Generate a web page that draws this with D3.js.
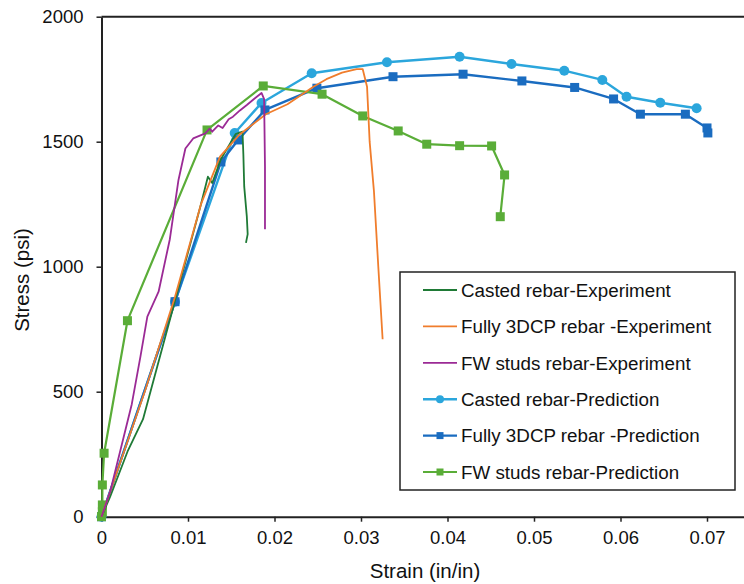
<!DOCTYPE html>
<html>
<head>
<meta charset="utf-8">
<script src="https://cdn.jsdelivr.net/npm/d3@7"></script>
<style>
  body { margin: 0; background: #fff; }
  svg { display: block; font-family: "Liberation Sans", Arial, sans-serif; }
</style>
</head>
<body>
<svg id="chart" width="744" height="584"></svg>
<script>
// strain (in/in), stress (psi)
const castedExp = [[0,0],[0.001,80],[0.003,260],[0.0048,390],[0.008,800],[0.0115,1250],[0.0123,1360],[0.0128,1335],[0.0138,1430],[0.0155,1530],[0.0163,1540],[0.0164,1450],[0.0165,1320],[0.0168,1200],[0.0169,1130],[0.0167,1095]];
const fullyExp = [[0,0],[0.005,500],[0.0085,880],[0.0115,1250],[0.0137,1440],[0.016,1530],[0.019,1610],[0.0215,1650],[0.0245,1720],[0.026,1750],[0.0278,1776],[0.0295,1790],[0.0302,1790],[0.0307,1720],[0.031,1500],[0.0315,1300],[0.032,1000],[0.0325,710]];
const fwExp = [[0,0],[0.001,100],[0.0035,450],[0.0045,640],[0.0053,800],[0.0066,900],[0.0079,1110],[0.0089,1347],[0.0097,1473],[0.0106,1513],[0.012,1533],[0.0125,1552],[0.0128,1540],[0.0135,1565],[0.014,1555],[0.0147,1590],[0.0152,1600],[0.016,1625],[0.0168,1647],[0.0177,1673],[0.0185,1695],[0.0188,1670],[0.0189,1400],[0.0189,1150]];
const castedPred = [[0,0],[0.0085,860],[0.0154,1535],[0.0185,1655],[0.0243,1774],[0.033,1818],[0.0414,1840],[0.0474,1811],[0.0535,1784],[0.0579,1747],[0.0607,1680],[0.0646,1656],[0.0688,1634]];
const fullyPred = [[0,0],[0.0085,860],[0.0138,1419],[0.0158,1507],[0.0189,1627],[0.0249,1714],[0.0337,1760],[0.0418,1770],[0.0486,1743],[0.0547,1717],[0.0592,1671],[0.0623,1610],[0.0675,1610],[0.07,1555],[0.0701,1535]];
const fwPred = [[0,0],[0.0001,20],[0.0001,47],[0.0001,127],[0.0003,254],[0.003,784],[0.0122,1547],[0.0187,1723],[0.0255,1690],[0.0302,1603],[0.0343,1543],[0.0376,1490],[0.0414,1484],[0.0451,1483],[0.0466,1367],[0.0461,1200]];

const xTicks = [0, 0.01, 0.02, 0.03, 0.04, 0.05, 0.06, 0.07];
const yTicks = [0, 500, 1000, 1500, 2000];

const series = [
  { name: 'Casted rebar-Experiment', data: castedExp, color: '#1f7a36', width: 1.8, marker: null },
  { name: 'Fully 3DCP rebar -Experiment', data: fullyExp, color: '#f07d2c', width: 1.8, marker: null },
  { name: 'FW studs rebar-Experiment', data: fwExp, color: '#9b2a95', width: 1.8, marker: null },
  { name: 'Casted rebar-Prediction', data: castedPred, color: '#2ba6dc', width: 2.4, marker: 'circle' },
  { name: 'Fully 3DCP rebar -Prediction', data: fullyPred, color: '#1a6cc0', width: 2.4, marker: 'square' },
  { name: 'FW studs rebar-Prediction', data: fwPred, color: '#5aad38', width: 2.2, marker: 'square' }
];

const svg = d3.select('#chart');
const plotLeft = 101.5, plotTop = 16.7, plotBottom = 516.7;
const x = d3.scaleLinear().domain([0, 0.075]).range([plotLeft, plotLeft + 0.075 * 8650]);
const y = d3.scaleLinear().domain([0, 2000]).range([plotBottom, plotTop]);

// top border
svg.append('line').attr('x1', plotLeft).attr('x2', 744).attr('y1', plotTop).attr('y2', plotTop)
  .attr('stroke', '#222').attr('stroke-width', 2);

const xAxis = svg.append('g').attr('transform', `translate(0,${plotBottom})`)
  .call(d3.axisBottom(x).tickValues(xTicks).tickSize(5).tickSizeOuter(0).tickPadding(9)
    .tickFormat((d) => d === 0 ? '0' : d3.format('.2f')(d)));
const yAxis = svg.append('g').attr('transform', `translate(${plotLeft},0)`)
  .call(d3.axisLeft(y).tickValues(yTicks).tickSize(5).tickSizeOuter(0).tickPadding(13)
    .tickFormat(d3.format('d')));
[xAxis, yAxis].forEach((g) => {
  g.select('.domain').attr('stroke', '#222').attr('stroke-width', 2);
  g.selectAll('.tick line').attr('stroke', '#222').attr('stroke-width', 1.5);
  g.selectAll('.tick text').attr('font-size', 18.5).attr('fill', '#111')
    .attr('font-family', '"Liberation Sans", Arial, sans-serif');
});

svg.append('text').attr('x', 425).attr('y', 578).attr('text-anchor', 'middle')
  .attr('font-size', 20.5).attr('fill', '#111').text('Strain (in/in)');
svg.append('text').attr('transform', 'translate(29,280) rotate(-90)').attr('text-anchor', 'middle')
  .attr('font-size', 20.5).attr('fill', '#111').text('Stress (psi)');

const line = d3.line().x((d) => x(d[0])).y((d) => y(d[1]));
const plot = svg.append('g');

function drawMarkers(g, pts, s, size) {
  if (s.marker === 'circle') {
    g.selectAll('circle').data(pts).join('circle')
      .attr('cx', (d) => d[0]).attr('cy', (d) => d[1]).attr('r', size / 2).attr('fill', s.color);
  } else if (s.marker === 'square') {
    g.selectAll('rect').data(pts).join('rect')
      .attr('x', (d) => d[0] - size / 2).attr('y', (d) => d[1] - size / 2)
      .attr('width', size).attr('height', size).attr('fill', s.color);
  }
}

// draw predictions first, experiments on top like the original
[3, 4, 5, 0, 1, 2].forEach((i) => {
  const s = series[i];
  const g = plot.append('g');
  g.append('path').datum(s.data).attr('d', line).attr('fill', 'none')
    .attr('stroke', s.color).attr('stroke-width', s.width).attr('stroke-linejoin', 'round');
  drawMarkers(g, s.data.map((d) => [x(d[0]), y(d[1])]), s, s.marker === 'circle' ? 10 : 9);
});

// legend
const legend = svg.append('g');
legend.append('rect').attr('x', 400).attr('y', 272).attr('width', 335).attr('height', 218)
  .attr('fill', '#fff').attr('stroke', '#222').attr('stroke-width', 1.5);
series.forEach((s, i) => {
  const cy = 290 + i * 36.4;
  const row = legend.append('g');
  row.append('line').attr('x1', 423).attr('x2', 457).attr('y1', cy).attr('y2', cy)
    .attr('stroke', s.color).attr('stroke-width', s.width);
  drawMarkers(row, [[440, cy]], s, s.marker === 'circle' ? 8 : 7);
  row.append('text').attr('x', 461).attr('y', cy).attr('dy', '0.36em')
    .attr('font-size', 18.8).attr('fill', '#111').text(s.name);
});
</script>
</body>
</html>
